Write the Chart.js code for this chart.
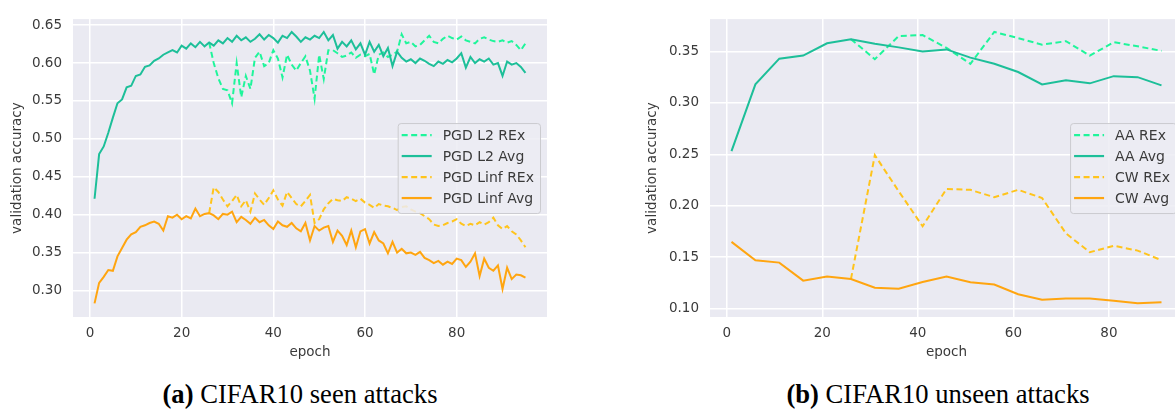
<!doctype html>
<html lang="en">

<head>
    <meta charset="utf-8">
    <title>CIFAR10 validation accuracy</title>
    <style>
        * {
            margin: 0;
            padding: 0;
        }

        body {
            width: 1175px;
            height: 410px;
            overflow: hidden;
            position: relative;
            background: #fff;
        }

        .chartBox {
            position: absolute;
            top: 0;
            height: 370px;
        }

        #boxA {
            left: 0;
            width: 560px;
        }

        #boxB {
            left: 620px;
            width: 580px;
        }

        .caption {
            position: absolute;
            top: 381px;
            width: 600px;
            font-family: 'Liberation Serif', serif;
            font-size: 26.6px;
            line-height: 26.6px;
            text-align: center;
            color: #000;
            white-space: nowrap;
        }
    </style>
</head>

<body>
    <div class="chartBox" id="boxA"><canvas id="chartA"></canvas></div>
    <div class="chartBox" id="boxB"><canvas id="chartB"></canvas></div>
    <div class="caption" style="left:0px"><b>(a)</b> CIFAR10 seen attacks</div>
    <div class="caption" style="left:638px"><b>(b)</b> CIFAR10 unseen attacks</div>

    <script src="https://cdn.jsdelivr.net/npm/chart.js"></script>

    <script>
        // ---- seen attacks: one value per epoch ----
        const epochsA = Array.from({ length: 95 }, (_, i) => i + 1)
        const rexStartA = 26

        const l2Avg = [
            0.421, 0.480, 0.490, 0.508, 0.528, 0.547, 0.552, 0.568, 0.570, 0.583,
            0.585, 0.595, 0.597, 0.603, 0.606, 0.611, 0.614, 0.617, 0.614, 0.623,
            0.619, 0.626, 0.621, 0.628, 0.622, 0.627, 0.623, 0.630, 0.626, 0.633,
            0.628, 0.636, 0.630, 0.634, 0.628, 0.632, 0.638, 0.631, 0.637, 0.633,
            0.627, 0.636, 0.633, 0.641, 0.635, 0.628, 0.634, 0.631, 0.636, 0.633,
            0.641, 0.630, 0.637, 0.619, 0.628, 0.622, 0.630, 0.618, 0.626, 0.611,
            0.628, 0.615, 0.624, 0.609, 0.620, 0.596, 0.615, 0.607, 0.602, 0.605,
            0.600, 0.606, 0.603, 0.599, 0.596, 0.602, 0.599, 0.604, 0.601, 0.606,
            0.613, 0.594, 0.608, 0.600, 0.605, 0.602, 0.606, 0.598, 0.600, 0.583,
            0.602, 0.598, 0.600, 0.595, 0.587
        ]
        // REx runs start at epoch 26
        const l2Rex = [
            0.627, 0.600, 0.580, 0.566, 0.564, 0.547, 0.600, 0.555, 0.583, 0.566,
            0.607, 0.615, 0.596, 0.600, 0.617, 0.606, 0.581, 0.611, 0.598, 0.590,
            0.600, 0.609, 0.590, 0.553, 0.611, 0.579, 0.617, 0.617, 0.613, 0.608,
            0.610, 0.614, 0.607, 0.611, 0.609, 0.612, 0.585, 0.611, 0.614, 0.608,
            0.611, 0.615, 0.638, 0.626, 0.628, 0.622, 0.624, 0.630, 0.636, 0.628,
            0.626, 0.632, 0.636, 0.633, 0.631, 0.635, 0.630, 0.628, 0.626, 0.632,
            0.634, 0.631, 0.629, 0.628, 0.630, 0.627, 0.629, 0.624, 0.617, 0.626
        ]
        const linfAvg = [
            0.283, 0.310, 0.318, 0.327, 0.326, 0.345, 0.356, 0.367, 0.374, 0.377,
            0.384, 0.386, 0.389, 0.391, 0.388, 0.379, 0.398, 0.396, 0.400, 0.394,
            0.398, 0.395, 0.408, 0.398, 0.401, 0.402, 0.399, 0.394, 0.401, 0.400,
            0.404, 0.390, 0.397, 0.393, 0.388, 0.396, 0.390, 0.393, 0.386, 0.381,
            0.391, 0.386, 0.384, 0.389, 0.382, 0.378, 0.389, 0.366, 0.385, 0.379,
            0.383, 0.385, 0.364, 0.379, 0.372, 0.360, 0.379, 0.357, 0.378, 0.381,
            0.362, 0.377, 0.366, 0.362, 0.349, 0.364, 0.350, 0.355, 0.349, 0.350,
            0.347, 0.351, 0.343, 0.340, 0.336, 0.339, 0.334, 0.338, 0.335, 0.342,
            0.340, 0.331, 0.338, 0.349, 0.319, 0.342, 0.330, 0.326, 0.333, 0.302,
            0.330, 0.315, 0.321, 0.320, 0.317
        ]
        const linfRex = [
            0.402, 0.436, 0.430, 0.420, 0.411, 0.418, 0.426, 0.411, 0.419, 0.404,
            0.428, 0.420, 0.413, 0.422, 0.432, 0.420, 0.412, 0.430, 0.422, 0.414,
            0.411, 0.418, 0.426, 0.389, 0.394, 0.407, 0.415, 0.421, 0.419, 0.418,
            0.423, 0.421, 0.418, 0.421, 0.416, 0.413, 0.409, 0.414, 0.412, 0.411,
            0.409, 0.406, 0.410, 0.411, 0.407, 0.404, 0.402, 0.398, 0.394, 0.387,
            0.385, 0.386, 0.389, 0.391, 0.394, 0.388, 0.385, 0.388, 0.386, 0.390,
            0.387, 0.390, 0.396, 0.386, 0.381, 0.385, 0.378, 0.374, 0.366, 0.357
        ]

        // ---- unseen attacks: evaluated every 5 epochs ----
        const epochsB = [1, 6, 11, 16, 21, 26, 31, 36, 41, 46, 51, 56, 61, 66, 71, 76, 81, 86, 91]
        const rexStartB = 26
        const aaAvg = [0.253, 0.318, 0.343, 0.346, 0.358, 0.362, 0.3575, 0.354, 0.350, 0.352,
            0.344, 0.338, 0.330, 0.318, 0.322, 0.319, 0.326, 0.325, 0.317]
        const aaRex = [0.362, 0.3425, 0.365, 0.366, 0.3535, 0.338, 0.369, 0.363, 0.3566, 0.360,
            0.346, 0.359, 0.355, 0.3506]
        const cwAvg = [0.1648, 0.1469, 0.1446, 0.1271, 0.1311, 0.1286, 0.1201, 0.1193, 0.1258, 0.1311,
            0.1255, 0.1233, 0.1139, 0.1085, 0.1097, 0.1097, 0.1076, 0.1051, 0.106]
        const cwRex = [0.1286, 0.2491, 0.214, 0.180, 0.2163, 0.2154, 0.2082, 0.2154, 0.2075, 0.173,
            0.1547, 0.161, 0.1563, 0.147]

        // tick labels
        const xTicks = [0, 20, 40, 60, 80]
        const yTicksA = [0.30, 0.35, 0.40, 0.45, 0.50, 0.55, 0.60, 0.65]
        const yTicksB = [0.10, 0.15, 0.20, 0.25, 0.30, 0.35]

        const GREEN_REX = '#1ff59b'
        const GREEN_AVG = '#1dbf99'
        const ORANGE_REX = '#ffc41c'
        const ORANGE_AVG = '#ffa510'
        const TEXT = '#3a3a3a'
        const FONT = { family: "'DejaVu Sans', sans-serif", size: 13.5 }

        const pts = (xs, ys) => ys.map((y, i) => ({ x: xs[i], y: y }))
        const fromEpoch = (xs, start, ys) => pts(xs.slice(xs.indexOf(start)), ys)

        function series(label, data, color, dashed, order) {
            return {
                label: label,
                data: data,
                borderColor: color,
                borderWidth: 2,
                borderDash: dashed ? [6, 3.5] : [],
                pointRadius: 0,
                tension: 0,
                order: order
            }
        }

        // seaborn-like grey plot area
        const plotBg = {
            id: 'plotBg',
            beforeDraw(chart) {
                const { ctx, chartArea: a } = chart
                ctx.save()
                ctx.fillStyle = '#eaeaf2'
                ctx.fillRect(a.left, a.top, a.width, a.height)
                ctx.restore()
            }
        }

        // legend box sitting inside the plot, centre right
        const insetLegend = {
            id: 'insetLegend',
            afterDatasetsDraw(chart) {
                const { ctx, chartArea: a } = chart
                const items = chart.data.datasets
                ctx.save()
                ctx.font = "14px 'DejaVu Sans', sans-serif"
                const textW = Math.max(...items.map(d => ctx.measureText(d.label).width))
                const w = 4 + 30 + 11 + textW + 6
                const h = 90
                const x = a.right - 7 - w
                const y = (a.top + a.bottom) / 2 - h / 2
                ctx.beginPath()
                ctx.roundRect(x + 0.5, y + 0.5, w, h, 3)
                ctx.fillStyle = 'rgba(236,236,243,0.85)'
                ctx.fill()
                ctx.strokeStyle = '#cbcbcf'
                ctx.lineWidth = 1
                ctx.stroke()
                items.forEach((d, i) => {
                    const cy = y + 12 + i * 21
                    ctx.beginPath()
                    ctx.setLineDash(d.borderDash)
                    ctx.strokeStyle = d.borderColor
                    ctx.lineWidth = 2.2
                    ctx.moveTo(x + 4, cy)
                    ctx.lineTo(x + 34, cy)
                    ctx.stroke()
                    ctx.setLineDash([])
                    ctx.fillStyle = TEXT
                    ctx.textBaseline = 'middle'
                    ctx.fillText(d.label, x + 45, cy + 1)
                })
                ctx.restore()
            }
        }

        function options(xMin, xMax, yMin, yMax, yTicks, yAxisWidth, titleOffset, padRight) {
            return {
                responsive: true,
                maintainAspectRatio: false,
                animation: false,
                layout: { padding: { top: 10, right: padRight, left: 0, bottom: 0 } },
                plugins: { legend: { display: false }, tooltip: { enabled: false } },
                scales: {
                    x: {
                        type: 'linear',
                        min: xMin,
                        max: xMax,
                        afterBuildTicks: s => { s.ticks = xTicks.map(v => ({ value: v })) },
                        afterFit: s => { s.height = 53 },
                        grid: { color: '#ffffff', lineWidth: 1.5, drawTicks: false },
                        border: { display: false },
                        ticks: { padding: 8, color: TEXT, font: FONT, callback: v => v },
                        title: { display: true, text: 'epoch', color: TEXT, font: FONT, padding: { top: 0, bottom: 9 } }
                    },
                    y: {
                        min: yMin,
                        max: yMax,
                        afterBuildTicks: s => { s.ticks = yTicks.map(v => ({ value: v })) },
                        afterFit: s => { s.width = yAxisWidth },
                        grid: { color: '#ffffff', lineWidth: 1.5, drawTicks: false },
                        border: { display: false },
                        ticks: { padding: 11, color: TEXT, font: FONT, callback: v => v.toFixed(2) },
                        title: { display: true, text: 'validation accuracy', color: TEXT, font: FONT, padding: { top: titleOffset, bottom: 0 } }
                    }
                }
            }
        }

        const chartA = new Chart(document.getElementById('chartA'), {
            type: 'line',
            data: {
                datasets: [
                    series('PGD L2 REx', fromEpoch(epochsA, rexStartA, l2Rex), GREEN_REX, true, 4),
                    series('PGD L2 Avg', pts(epochsA, l2Avg), GREEN_AVG, false, 3),
                    series('PGD Linf REx', fromEpoch(epochsA, rexStartA, linfRex), ORANGE_REX, true, 2),
                    series('PGD Linf Avg', pts(epochsA, linfAvg), ORANGE_AVG, false, 1)
                ]
            },
            options: options(-3.7, 99.7, 0.265, 0.658, yTicksA, 73, 9, 13),
            plugins: [plotBg, insetLegend]
        })

        const chartB = new Chart(document.getElementById('chartB'), {
            type: 'line',
            data: {
                datasets: [
                    series('AA REx', fromEpoch(epochsB, rexStartB, aaRex), GREEN_REX, true, 4),
                    series('AA Avg', pts(epochsB, aaAvg), GREEN_AVG, false, 3),
                    series('CW REx', fromEpoch(epochsB, rexStartB, cwRex), ORANGE_REX, true, 2),
                    series('CW Avg', pts(epochsB, cwAvg), ORANGE_AVG, false, 1)
                ]
            },
            options: options(-3.5, 95.5, 0.0917, 0.3815, yTicksB, 90, 24, 17),
            plugins: [plotBg, insetLegend]
        })
    </script>
</body>

</html>
